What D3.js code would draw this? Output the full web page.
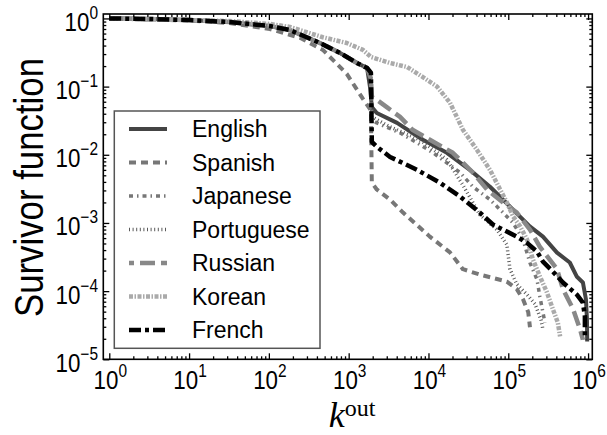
<!DOCTYPE html>
<html><head><meta charset="utf-8">
<script src="https://cdn.jsdelivr.net/npm/d3@7"></script>
<style>html,body{margin:0;padding:0;background:#fff;}svg{display:block;}</style>
</head><body>
<svg id="chart" width="607" height="435"></svg>
<script>
// ---- data ----
const series = ["English","Spanish","Japanese","Portuguese","Russian","Korean","French"];
const xTickExps = [0,1,2,3,4,5,6];
const yTickExps = [0,-1,-2,-3,-4,-5];

const kEnglish = [1,3.25,10,32,103,183,437,780,1270,1700,1850,1950,2250,4040,8500,17000,33000,59000,105000,186000,272000,408000,590000,720000,861000,940000,968000,975000];
const sEnglish = [1,0.98,0.947,0.886,0.774,0.676,0.436,0.311,0.222,0.188,0.099,0.0504,0.041,0.0294,0.0166,0.0107,0.0060,0.0034,0.00174,0.00089,0.00063,0.000367,0.000263,0.000164,0.000134,0.000076,0.000039,0.0000182];

const kSpanish = [1,10,32,103,245,475,946,1510,1900,1950,2250,3300,4800,10400,18600,27000,44000,96000,128000,153000,178000,187000];
const sSpanish = [1,0.93,0.856,0.70,0.52,0.345,0.154,0.066,0.045,0.0039,0.0031,0.0022,0.00142,0.00063,0.00037,0.00021,0.000175,0.000138,0.000107,0.000076,0.000049,0.0000295];

const kJapanese = [1,3.25,10,32,103,183,437,780,1270,1700,1900,1950,2250,4400,7200,11400,17000,24800,36000,59000,86000,115000,153000,187000,229000,249000,288000];
const sJapanese = [1,0.98,0.947,0.886,0.774,0.676,0.436,0.311,0.222,0.188,0.15,0.0326,0.0293,0.021,0.0150,0.0107,0.0076,0.0055,0.0034,0.0022,0.00142,0.0010,0.00057,0.00026,0.000148,0.000083,0.0000345];

const kPortuguese = [1,3.25,10,32,103,183,437,780,1270,1700,1900,1950,3300,7800,17000,27000,44000,72000,96000,105000,128000,172000,216000,257000,272000];
const sPortuguese = [1,0.98,0.947,0.886,0.774,0.676,0.436,0.311,0.222,0.188,0.15,0.036,0.0257,0.0166,0.0085,0.0036,0.00132,0.00080,0.00048,0.00021,0.000126,0.000089,0.000065,0.000038,0.0000274];

const kRussian = [1,3.25,10,32,103,183,437,780,1270,1700,1900,1950,2250,3000,4400,6300,10400,20200,36000,54000,86000,128000,187000,248000,408000,484000,646000,790000,861000];
const sRussian = [1,0.98,0.947,0.886,0.774,0.676,0.436,0.311,0.222,0.188,0.13,0.0707,0.064,0.050,0.036,0.0233,0.0166,0.0107,0.0055,0.0031,0.0020,0.00142,0.00080,0.00045,0.00021,0.000107,0.000055,0.000028,0.0000195];

const kKorean = [1,10,32,103,183,475,946,1510,1900,3300,5400,8500,12800,18600,27000,40500,59000,79000,96000,115000,141000,172000,204000,250000,305000,363000,418000,446000];
const sKorean = [1,0.947,0.916,0.83,0.75,0.53,0.436,0.345,0.272,0.222,0.194,0.138,0.100,0.058,0.0233,0.0118,0.0060,0.0031,0.0020,0.00124,0.00089,0.00057,0.00029,0.000163,0.000096,0.000054,0.0000345,0.0000217];

const kFrench = [1,3.25,10,32,103,183,437,780,1270,1700,1900,1950,2250,3300,7200,13900,24800,44000,64000,86000,128000,172000,229000,272000,363000,484000,724000,861000,912000,912000];
const sFrench = [1,0.98,0.947,0.886,0.774,0.676,0.436,0.311,0.222,0.188,0.16,0.0155,0.0131,0.0093,0.0060,0.0039,0.00245,0.00142,0.00095,0.00080,0.00063,0.00051,0.00038,0.00027,0.000193,0.000134,0.000089,0.000068,0.000043,0.0000195];

const kData = [kEnglish,kSpanish,kJapanese,kPortuguese,kRussian,kKorean,kFrench];
const sData = [sEnglish,sSpanish,sJapanese,sPortuguese,sRussian,sKorean,sFrench];

// ---- styles ----
const colors = ["#444444","#777777","#777777","#5a5a5a","#888888","#aaaaaa","#000000"];
const widths = [4,4,3.5,3.5,4.5,4.5,4.5];
const dashes = [null,"7,5","4,4,1.5,4","1,2.6","15,6","4,1.5,1.5,1.5","12,4,4,4"];
const dashOff = [0,0,0,0,10,0,0];

// ---- layout ----
const L = 103.3, R = 592.3, T = 14, B = 359.3;
const svg = d3.select("#chart");
const x = d3.scaleLog().domain([Math.pow(10,-0.075), Math.pow(10,6.053)]).range([L,R]);
const y = d3.scaleLog().domain([1e-5, Math.pow(10,0.065)]).range([B,T]);

svg.append("defs").append("clipPath").attr("id","clip")
  .append("rect").attr("x",L).attr("y",T).attr("width",R-L).attr("height",B-T);

// curves
const line = d3.line().x(d=>x(d[0])).y(d=>y(d[1]));
const g = svg.append("g").attr("clip-path","url(#clip)");
series.forEach((name,i)=>{
  const pts = kData[i].map((k,j)=>[k,sData[i][j]]);
  g.append("path").datum(pts).attr("d",line)
    .attr("fill","none").attr("stroke",colors[i]).attr("stroke-width",widths[i])
    .attr("stroke-dasharray",dashes[i]).attr("stroke-dashoffset",dashOff[i])
    .attr("stroke-linejoin","round");
});

// ticks
const xMajor = xTickExps.map(e=>Math.pow(10,e));
const yMajor = yTickExps.map(e=>Math.pow(10,e));
const xMinor = [], yMinor = [];
for (let e=0;e<6;e++) for (let m=2;m<=9;m++) xMinor.push(m*Math.pow(10,e));
for (let e=-5;e<0;e++) for (let m=2;m<=9;m++) yMinor.push(m*Math.pow(10,e));

function styleAxis(sel){
  sel.select(".domain").remove();
  sel.selectAll("line").attr("stroke","#000").attr("stroke-width",1.3);
  sel.selectAll("text").remove();
}
const mk = (axis, vals, size) => axis.tickValues(vals).tickSizeInner(-size).tickSizeOuter(0).tickFormat("");
svg.append("g").attr("transform",`translate(0,${B})`).call(mk(d3.axisBottom(x),xMajor,6)).call(styleAxis);
svg.append("g").attr("transform",`translate(0,${B})`).call(mk(d3.axisBottom(x),xMinor,3)).call(styleAxis);
svg.append("g").attr("transform",`translate(0,${T})`).call(mk(d3.axisTop(x),xMajor,6)).call(styleAxis);
svg.append("g").attr("transform",`translate(0,${T})`).call(mk(d3.axisTop(x),xMinor,3)).call(styleAxis);
svg.append("g").attr("transform",`translate(${L},0)`).call(mk(d3.axisLeft(y),yMajor,6)).call(styleAxis);
svg.append("g").attr("transform",`translate(${L},0)`).call(mk(d3.axisLeft(y),yMinor,3)).call(styleAxis);
svg.append("g").attr("transform",`translate(${R},0)`).call(mk(d3.axisRight(y),yMajor,6)).call(styleAxis);
svg.append("g").attr("transform",`translate(${R},0)`).call(mk(d3.axisRight(y),yMinor,3)).call(styleAxis);

// frame
svg.append("rect").attr("x",L).attr("y",T).attr("width",R-L).attr("height",B-T)
  .attr("fill","none").attr("stroke","#000").attr("stroke-width",1.6);

// tick labels
const FONT = "'Liberation Sans', Arial, Helvetica, sans-serif";
function powLabel(parent, tx, ty, exp, anchor){
  const t = parent.append("text")
    .attr("transform",`translate(${tx},${ty}) scale(0.86,1)`)
    .attr("text-anchor",anchor).attr("font-family",FONT).attr("font-size",26).attr("fill","#000");
  t.append("tspan").text("10");
  t.append("tspan").attr("font-size",18).attr("dy",-12).text(exp<0 ? "\u2212"+(-exp) : String(exp));
}
xTickExps.forEach(e=>powLabel(svg, x(Math.pow(10,e))+1, 388.5, e, "middle"));
yTickExps.forEach(e=>powLabel(svg, 98, y(Math.pow(10,e))+12.5, e, "end"));

// axis titles
svg.append("text").attr("transform",`translate(43,187.5) rotate(-90)`)
  .attr("text-anchor","middle").attr("font-family",FONT).attr("font-size",40)
  .attr("textLength",259).attr("lengthAdjust","spacingAndGlyphs").text("Survivor function");
const xt = svg.append("text").attr("x",352).attr("y",427.3).attr("text-anchor","middle")
  .attr("font-family","'Liberation Serif','DejaVu Serif',serif").attr("font-size",36);
xt.append("tspan").attr("font-style","italic").text("k");
xt.append("tspan").attr("font-size",24).attr("dy",-11.5).text("out");

// legend
const lg = svg.append("g");
lg.append("rect").attr("x",114.3).attr("y",111).attr("width",205.7).attr("height",237.3)
  .attr("fill","#fff").attr("stroke","#555").attr("stroke-width",1.5);
series.forEach((name,i)=>{
  const cy = 129 + i*33.5;
  lg.append("line").attr("x1",129).attr("x2",167).attr("y1",cy).attr("y2",cy)
    .attr("stroke",colors[i]).attr("stroke-width",widths[i])
    .attr("stroke-dasharray",dashes[i]).attr("stroke-dashoffset",dashOff[i]);
  lg.append("text").attr("x",192).attr("y",cy+8).attr("font-family",FONT).attr("font-size",23)
    .attr("fill","#000").text(name);
});
</script>
</body></html>
